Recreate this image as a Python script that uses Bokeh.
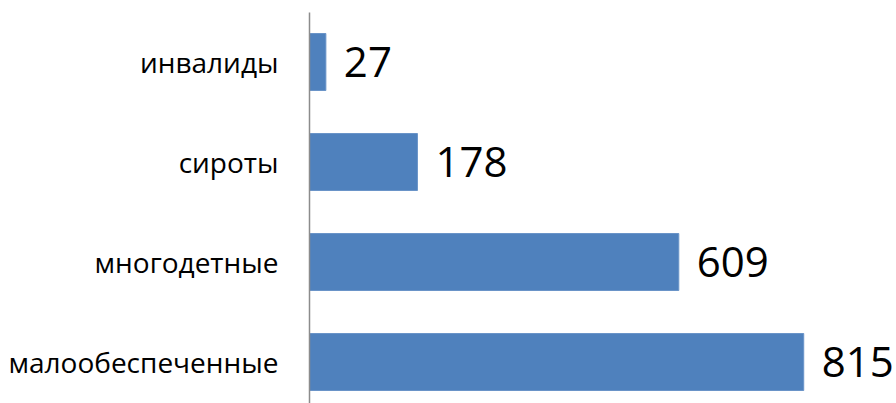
from bokeh.plotting import figure
from bokeh.models import Range1d, FixedTicker, ColumnDataSource
from bokeh.core.properties import value
from bokeh.embed import file_html
from bokeh.resources import INLINE

categories = ["инвалиды", "сироты", "многодетные", "малообеспеченные"]
values = [27, 178, 609, 815]

# positions: bottom category at 0
positions = [len(categories) - 1 - i for i in range(len(categories))]

src = ColumnDataSource(dict(
    y=positions,
    v=values,
    lbl=[str(v) for v in values],
))

p = figure(width=896, height=403, output_backend="svg", toolbar_location=None,
           x_range=Range1d(0, 968), y_range=Range1d(-0.415, 3.495),
           x_axis_location=None, min_border_left=309, min_border_right=0,
           min_border_top=12, min_border_bottom=0)
p.outline_line_color = None
p.xgrid.visible = False
p.ygrid.visible = False
p.background_fill_color = "white"

p.hbar(y="y", right="v", left=0, height=0.57, source=src,
       fill_color="#4F81BD", line_color="#6A94C8", line_width=1)

p.text(x="v", y="y", text="lbl", source=src, x_offset=18,
       text_baseline="middle", text_align="left",
       text_font=value("Open Sans"), text_font_size="42px", text_color="black")

ax = p.yaxis[0]
ax.ticker = FixedTicker(ticks=positions)
ax.major_label_overrides = {pos: cat for pos, cat in zip(positions, categories)}
ax.major_tick_line_color = None
ax.minor_tick_line_color = None
ax.major_tick_out = 0
ax.major_tick_in = 0
ax.major_label_standoff = 31
ax.major_label_text_font = "Open Sans"
ax.major_label_text_font_size = "28px"
ax.major_label_text_color = "black"
ax.axis_line_color = "#8C8C8C"
ax.axis_line_width = 1.5

open("out.html", "w").write(file_html(p, INLINE))
